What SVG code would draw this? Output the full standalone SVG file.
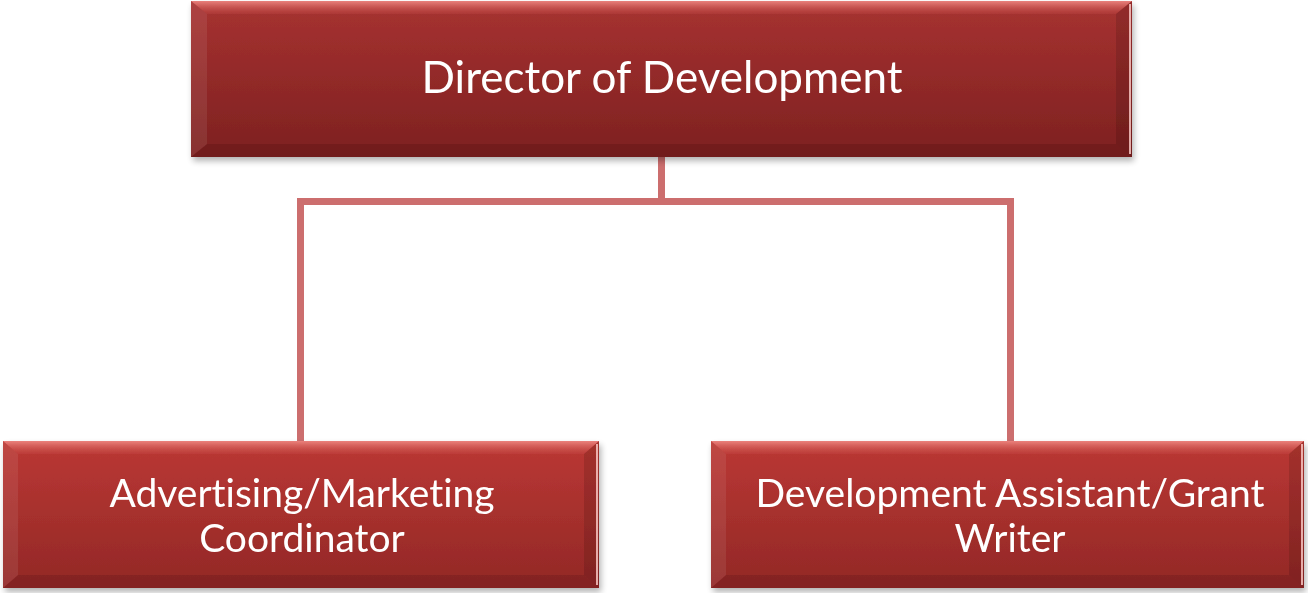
<svg xmlns="http://www.w3.org/2000/svg" width="1308" height="593" viewBox="0 0 1308 593">
<defs>
<linearGradient id="gTop" x1="0" y1="0" x2="0" y2="1">
<stop offset="0" stop-color="#a73231"/>
<stop offset="1" stop-color="#7d2120"/>
</linearGradient>
<linearGradient id="gBot" x1="0" y1="0" x2="0" y2="1">
<stop offset="0" stop-color="#bb3834"/>
<stop offset="1" stop-color="#922826"/>
</linearGradient>
<linearGradient id="gHi" x1="0" y1="0" x2="0" y2="1">
<stop offset="0" stop-color="#f08a85" stop-opacity="0.9"/>
<stop offset="1" stop-color="#d05550" stop-opacity="0.2"/>
</linearGradient>
<filter id="sh" x="-5%" y="-5%" width="110%" height="115%">
<feGaussianBlur in="SourceAlpha" stdDeviation="3"/>
<feOffset dx="2" dy="4"/>
<feComponentTransfer><feFuncA type="linear" slope="0.3"/></feComponentTransfer>
<feMerge><feMergeNode/><feMergeNode in="SourceGraphic"/></feMerge>
</filter>
</defs>
<style>
.lbl{font-family:Lato,"Open Sans","Liberation Sans",sans-serif;fill:#ffffff;text-anchor:middle;font-variant-ligatures:none}
.conn{fill:none;stroke:#cc6e6e;stroke-width:7}
.bevL{fill:#ffffff;opacity:0.08}
.bevR{fill:#000000;opacity:0.12}
.bevB{fill:#000000;opacity:0.10}
.edge{fill:none;stroke:#ffd0cc;stroke-width:2;opacity:0.8}
</style>
<rect width="1308" height="593" fill="#ffffff"/>
<g id="connectors">
<path class="conn" d="M661.5,157 V201.5 M300.5,201.5 H1010.5 M300.5,198 V441 M1010.5,198 V441"/>
</g>
<g id="node-director" filter="url(#sh)">
<rect x="191" y="1" width="941" height="156" fill="url(#gTop)"/>
<polygon points="191,1 1132,1 1116,14 207,14" fill="url(#gHi)"/>
<polygon class="bevL" points="191,1 207,14 207,144 191,157"/>
<polygon class="bevR" points="1132,1 1132,157 1116,144 1116,14"/>
<polygon class="bevB" points="191,157 1132,157 1116,144 207,144"/>
<line class="edge" x1="1130" y1="4" x2="1130" y2="154"/>
<text class="lbl" x="662" y="93" font-size="44">Director of Development</text>
</g>
<g id="node-advertising" filter="url(#sh)">
<rect x="3" y="441" width="596" height="147" fill="url(#gBot)"/>
<polygon points="3,441 599,441 584,454 18,454" fill="url(#gHi)"/>
<polygon class="bevL" points="3,441 18,454 18,575 3,588"/>
<polygon class="bevR" points="599,441 599,588 584,575 584,454"/>
<polygon class="bevB" points="3,588 599,588 584,575 18,575"/>
<line class="edge" x1="597" y1="444" x2="597" y2="585"/>
<text class="lbl" x="302" y="507" font-size="39">Advertising/Marketing</text>
<text class="lbl" x="302" y="552" font-size="39">Coordinator</text>
</g>
<g id="node-assistant" filter="url(#sh)">
<rect x="711" y="441" width="593" height="147" fill="url(#gBot)"/>
<polygon points="711,441 1304,441 1289,454 726,454" fill="url(#gHi)"/>
<polygon class="bevL" points="711,441 726,454 726,575 711,588"/>
<polygon class="bevR" points="1304,441 1304,588 1289,575 1289,454"/>
<polygon class="bevB" points="711,588 1304,588 1289,575 726,575"/>
<line class="edge" x1="1302" y1="444" x2="1302" y2="585"/>
<text class="lbl" x="1010" y="507" font-size="39">Development Assistant/Grant</text>
<text class="lbl" x="1010" y="552" font-size="39">Writer</text>
</g>
</svg>
